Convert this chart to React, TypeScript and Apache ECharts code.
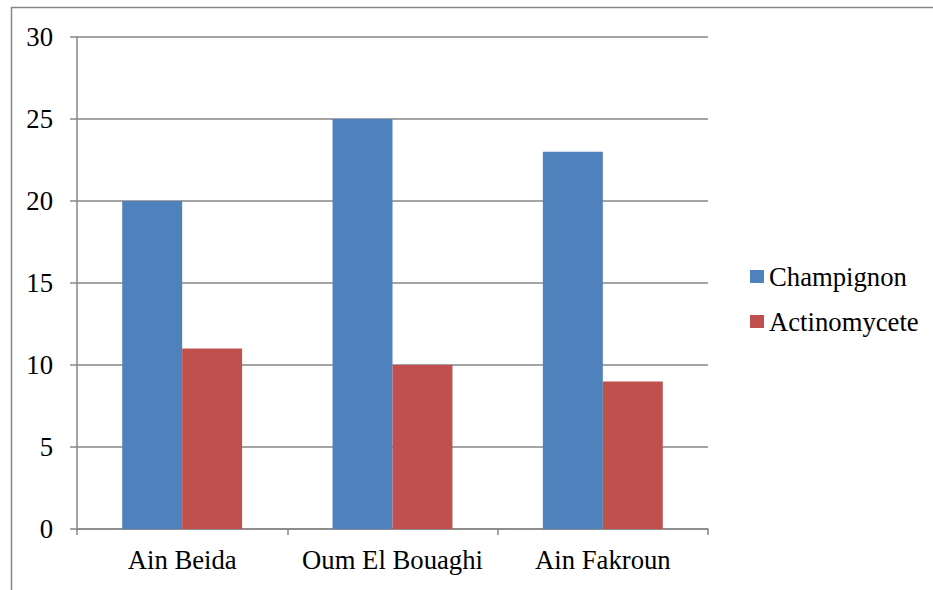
import React, { useEffect, useRef } from "react";
import * as echarts from "echarts";

const categories = ["Ain Beida", "Oum El Bouaghi", "Ain Fakroun"];
const champignon = [20, 25, 23];
const actinomycete = [11, 10, 9];
const seriesNames = ["Champignon", "Actinomycete"];

const FONT = "Liberation Serif";
const FS = 26.7;
const GRAY = "#868686";

export default function App() {
  const ref = useRef<HTMLDivElement>(null);
  useEffect(() => {
    if (!ref.current) return;
    const chart = echarts.init(ref.current, undefined, { renderer: "svg" });
    chart.setOption({
      animation: false,
      backgroundColor: "#ffffff",
      textStyle: { fontFamily: FONT },
      graphic: [
        {
          type: "rect",
          shape: { x: 11.5, y: 7.5, width: 940, height: 600 },
          style: { fill: "none", stroke: GRAY, lineWidth: 1.5 },
          silent: true,
        },
      ],
      grid: { left: 77, top: 37, right: 225, bottom: 61, containLabel: false },
      legend: {
        orient: "vertical",
        left: 745,
        top: 258,
        itemWidth: 14,
        itemHeight: 13,
        itemGap: 18,
        icon: "rect",
        data: seriesNames,
        textStyle: { fontFamily: FONT, fontSize: FS, color: "#000" },
      },
      xAxis: {
        type: "category",
        data: categories,
        axisLine: { show: true, lineStyle: { color: GRAY, width: 1.5 } },
        axisTick: { show: true, alignWithLabel: false, interval: 0, length: 6, lineStyle: { color: GRAY, width: 1.5 } },
        axisLabel: { fontFamily: FONT, fontSize: FS, color: "#000", margin: 17, interval: 0 },
        splitLine: { show: false },
      },
      yAxis: {
        type: "value",
        min: 0,
        max: 30,
        interval: 5,
        axisLine: { show: true, lineStyle: { color: GRAY, width: 1.5 } },
        axisTick: { show: true, length: 7, lineStyle: { color: GRAY, width: 1.5 } },
        axisLabel: { fontFamily: FONT, fontSize: FS, color: "#000", margin: 24 },
        splitLine: { show: true, lineStyle: { color: GRAY, width: 1.5 } },
      },
      series: [
        {
          name: seriesNames[0],
          type: "bar",
          data: champignon,
          itemStyle: { color: "#4F81BD" },
          barGap: "0%",
          barCategoryGap: "43%",
        },
        {
          name: seriesNames[1],
          type: "bar",
          data: actinomycete,
          itemStyle: { color: "#C0504D" },
          barGap: "0%",
          barCategoryGap: "43%",
        },
      ],
    });
    return () => chart.dispose();
  }, []);
  return <div ref={ref} style={{ width: 933, height: 590, position: "absolute", left: 0, top: 0 }} />;
}
